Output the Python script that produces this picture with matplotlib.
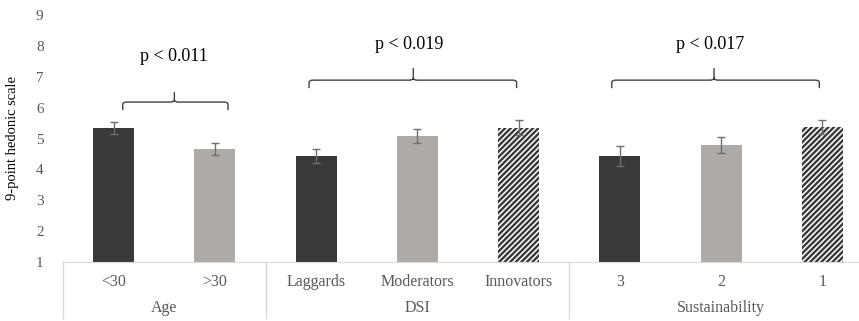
import numpy as np
import matplotlib.pyplot as plt
import matplotlib.transforms as mtransforms
from matplotlib.path import Path
from matplotlib.patches import PathPatch

# data
labels = ['<30', '>30', 'Laggards', 'Moderators', 'Innovators', '3', '2', '1']
means = [5.34, 4.65, 4.43, 5.09, 5.35, 4.43, 4.78, 5.37]
errs = [0.19, 0.19, 0.22, 0.22, 0.25, 0.32, 0.26, 0.23]
styles = ['dark', 'light', 'dark', 'light', 'hatch', 'dark', 'light', 'hatch']
groups = ['Age', 'DSI', 'Sustainability']
group_sizes = [2, 3, 3]
pvalues = ['p < 0.011', 'p < 0.019', 'p < 0.017']

plt.rcParams['font.family'] = ['Liberation Serif', 'DejaVu Serif']
plt.rcParams['hatch.linewidth'] = 1.7

dark = '#3b3937'
light = '#aeaaa8'

fig = plt.figure(figsize=(8.59, 3.21), dpi=100)
ax = fig.add_axes([63 / 859, 59 / 321, 810 / 859, 247 / 321])

x = np.arange(len(labels))
for xi, m, s in zip(x, means, styles):
    if s == 'hatch':
        ax.bar(xi, m - 1, bottom=1, width=0.405, color='white',
               edgecolor=dark, linewidth=0, hatch='//////')
    else:
        ax.bar(xi, m - 1, bottom=1, width=0.405,
               color=dark if s == 'dark' else light, linewidth=0)
ax.errorbar(x, means, yerr=errs, fmt='none', ecolor='#6f6f6f',
            elinewidth=1, capsize=3, capthick=1)

ax.set_xlim(-0.5, len(labels) - 0.5)
ax.set_ylim(1, 9)
ax.set_yticks(range(1, 10))
ax.tick_params(axis='y', length=0, pad=14, labelsize=11, labelcolor='#595959')
ax.tick_params(axis='x', length=0, bottom=False, labelbottom=False)
for sp in ['top', 'right', 'left']:
    ax.spines[sp].set_visible(False)
ax.spines['bottom'].set_color('#d9d9d9')
ax.set_ylabel('9-point hedonic scale', fontsize=10.5, labelpad=12)

# category table under the axis
trans = mtransforms.blended_transform_factory(ax.transData, ax.transAxes)
for xi, lab in zip(x, labels):
    ax.text(xi, -0.08, lab, transform=trans, ha='center', va='center',
            fontsize=11.5, color='#595959')
edges = np.concatenate([[0], np.cumsum(group_sizes)]) - 0.5
for e in edges:
    ax.plot([e, e], [0, -0.225], transform=trans, color='#d9d9d9',
            lw=1, clip_on=False)
for g, a, b in zip(groups, edges[:-1], edges[1:]):
    ax.text((a + b) / 2, -0.188, g, transform=trans, ha='center',
            va='center', fontsize=11.5, color='#595959')

# brackets with p values
def bracket(x0, x1, xc, yb, yt, ytip):
    r = 0.04
    verts = [(x0, yb), (x0, yt - 0.08), (x0, yt), (x0 + r, yt),
             (xc - r, yt), (xc, yt), (xc, yt + 0.08), (xc, ytip),
             (xc, yt + 0.08), (xc, yt), (xc + r, yt),
             (x1 - r, yt), (x1, yt), (x1, yt - 0.08), (x1, yb)]
    codes = [Path.MOVETO, Path.LINETO, Path.CURVE3, Path.CURVE3,
             Path.LINETO, Path.CURVE3, Path.CURVE3, Path.LINETO,
             Path.MOVETO, Path.CURVE3, Path.CURVE3,
             Path.LINETO, Path.CURVE3, Path.CURVE3, Path.LINETO]
    ax.add_patch(PathPatch(Path(verts, codes), fill=False, lw=1,
                           edgecolor='#404040', clip_on=False))

bracket(0.09, 1.13, 0.60, 5.92, 6.18, 6.50)
bracket(1.93, 3.98, 2.96, 6.63, 6.89, 7.28)
bracket(4.92, 6.97, 5.93, 6.63, 6.89, 7.28)
ax.text(0.60, 7.67, pvalues[0], ha='center', va='center', fontsize=13)
ax.text(2.92, 8.03, pvalues[1], ha='center', va='center', fontsize=13)
ax.text(5.89, 8.03, pvalues[2], ha='center', va='center', fontsize=13)

fig.savefig('out.png', dpi=100)
